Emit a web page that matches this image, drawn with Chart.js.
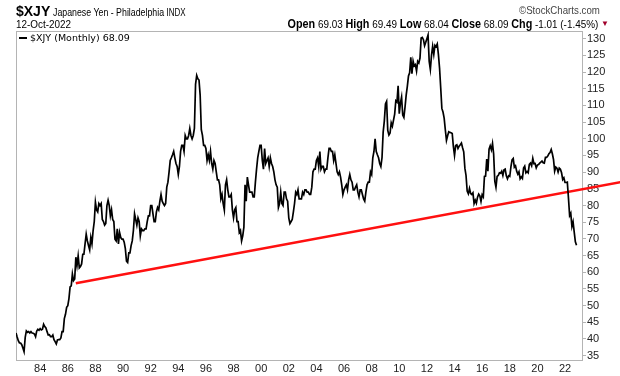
<!DOCTYPE html>
<html><head><meta charset="utf-8">
<script src="https://cdn.jsdelivr.net/npm/chart.js@4.4.0/dist/chart.umd.min.js"></script>
<style>
body{margin:0;background:#fff;width:620px;height:376px;overflow:hidden;font-family:"Liberation Sans",Arial,sans-serif;}
#wrap{position:relative;width:620px;height:376px;}
canvas{position:absolute;left:0;top:0;}
.t{position:absolute;white-space:nowrap;color:#000;line-height:1;}
</style></head><body>
<div id="wrap">
<canvas id="c" width="620" height="376"></canvas>
<div class="t" style="left:16px;top:3px;"><b style="font-size:14px">$XJY</b><span style="display:inline-block;transform:scaleX(0.8);transform-origin:left;font-size:11px;margin-left:3px">Japanese Yen - Philadelphia <span style="font-size:10px">INDX</span></span></div>
<div class="t" style="right:20px;top:5px;font-size:11px;color:#444;display:inline-block;transform:scaleX(0.88);transform-origin:right">©StockCharts.com</div>
<div class="t" style="left:16px;top:19px;font-size:11px;display:inline-block;transform:scaleX(0.9);transform-origin:left">12-Oct-2022</div>
<div class="t" style="right:22px;top:18px;font-size:11px;display:inline-block;transform:scaleX(0.9);transform-origin:right"><b style="font-size:12px">Open</b> 69.03 <b style="font-size:12px">High</b> 69.49 <b style="font-size:12px">Low</b> 68.04 <b style="font-size:12px">Close</b> 68.09 <b style="font-size:12px">Chg</b> -1.01 (-1.45%)</div>
<div class="t" style="left:601px;top:20px;font-size:8px;color:#a0002a">▼</div>
<div class="t" style="left:19px;top:33px;font-size:9.5px;font-family:'DejaVu Sans',sans-serif"><span style="display:inline-block;width:8px;height:2px;background:#000;vertical-align:middle;margin-right:3px;position:relative;top:-1px"></span>$XJY (Monthly) 68.09</div>
</div>
<script>
// Monthly closes of $XJY, starting March 1982, ending October 2022
const startYear = 1982;
const startMonth = 3; // March
const xjyValues = [
// 1982 Mar-Dec
41.8, 40.6, 39.5, 38.8, 38.8, 38.3, 37.3, 36.2, 40.5, 42.4,
// 1983
42.0, 42.2, 41.8, 42.2, 41.8, 41.7, 41.5, 40.7, 42.4, 42.9, 42.6, 43.1,
// 1984
42.7, 42.9, 44.4, 43.7, 43.3, 42.2, 41.2, 41.3, 40.7, 40.7, 41.2, 39.8,
// 1985
39.2, 38.5, 39.7, 39.8, 39.8, 40.3, 42.2, 42.2, 46.1, 47.4, 49.5, 50.0,
// 1986
52.1, 55.6, 55.9, 59.5, 57.5, 58.0, 64.5, 62.0, 64.9, 61.3, 61.7, 62.5,
// 1987
65.4, 65.4, 68.5, 71.4, 69.4, 68.0, 66.7, 70.4, 68.5, 72.5, 75.2, 81.0,
// 1988
78.7, 78.1, 80.6, 80.0, 80.6, 75.8, 75.2, 74.1, 74.6, 80.0, 81.6, 80.0,
// 1989
76.9, 78.7, 75.8, 75.2, 69.9, 69.4, 73.0, 68.5, 71.9, 70.4, 69.9, 69.9,
// 1990
69.0, 67.1, 63.3, 62.9, 65.8, 65.8, 68.0, 69.4, 72.5, 77.5, 75.8, 74.1,
// 1991
76.3, 75.2, 70.9, 73.0, 72.5, 72.5, 73.0, 73.0, 75.2, 76.9, 76.9, 80.0,
// 1992
80.0, 77.5, 75.2, 75.2, 78.1, 79.4, 78.7, 81.3, 83.3, 81.3, 80.6, 80.0,
// 1993
80.6, 85.5, 87.0, 90.1, 93.5, 94.3, 95.2, 96.2, 94.3, 92.6, 91.7, 89.3,
// 1994
91.7, 96.2, 98.0, 98.0, 96.2, 101.0, 100.0, 100.0, 101.0, 103.1, 101.0, 100.0,
// 1995
101.0, 103.1, 116.3, 119.0, 118.0, 117.6, 113.1, 102.7, 101.0, 98.0, 98.0, 97.1,
// 1996
93.5, 95.2, 93.5, 96.2, 92.6, 90.9, 93.5, 92.6, 90.1, 87.7, 87.7, 86.2,
// 1997
82.0, 83.3, 80.6, 78.7, 86.2, 87.7, 84.7, 82.6, 82.6, 83.3, 78.7, 76.3,
// 1998
78.7, 79.4, 75.2, 75.2, 71.9, 72.5, 69.4, 70.9, 73.5, 86.2, 81.3, 88.5,
// 1999
86.2, 84.0, 84.0, 84.0, 82.6, 82.6, 87.0, 90.9, 94.3, 96.2, 98.0, 98.0,
// 2000
93.5, 90.9, 97.1, 92.6, 93.5, 94.3, 91.7, 94.3, 92.6, 91.7, 90.1, 87.7,
// 2001
86.2, 85.5, 79.4, 80.6, 84.0, 80.6, 80.0, 84.0, 84.0, 82.0, 81.3, 76.3,
// 2002
74.6, 75.2, 75.8, 78.1, 80.6, 84.0, 83.3, 84.7, 82.0, 82.0, 82.0, 84.0,
// 2003
83.3, 84.7, 84.7, 84.0, 84.0, 83.3, 83.3, 85.5, 90.1, 90.9, 90.9, 93.5,
// 2004
94.3, 91.7, 96.2, 90.9, 91.7, 91.7, 90.1, 90.9, 90.9, 94.3, 97.1, 97.1,
// 2005
96.2, 96.2, 93.5, 95.2, 92.6, 90.1, 89.3, 90.1, 88.5, 86.2, 83.3, 84.7,
// 2006
85.5, 86.2, 84.7, 87.7, 89.3, 87.7, 87.0, 84.7, 84.7, 85.5, 86.2, 84.0,
// 2007
82.6, 84.7, 84.7, 83.3, 82.0, 81.3, 84.0, 86.2, 87.0, 87.0, 90.1, 89.3,
// 2008
94.3, 96.2, 100.0, 96.2, 95.2, 94.3, 92.6, 91.7, 94.3, 102.0, 105.3, 110.4,
// 2009
111.2, 102.5, 101.1, 101.7, 104.8, 103.8, 105.6, 107.4, 111.4, 111.0, 115.9, 107.5,
// 2010
110.7, 112.5, 107.1, 106.4, 109.5, 113.1, 115.7, 118.8, 119.8, 124.4, 119.5, 123.3,
// 2011
121.8, 122.2, 120.3, 123.2, 122.7, 124.2, 130.2, 130.4, 129.7, 127.9, 128.9, 130.0,
// 2012
131.1, 123.2, 120.8, 125.0, 127.7, 125.3, 128.0, 127.6, 128.4, 125.3, 121.2, 115.3,
// 2013
109.1, 108.0, 106.2, 102.7, 99.5, 100.9, 102.1, 101.9, 101.8, 101.6, 97.7, 95.0,
// 2014
98.0, 98.2, 97.1, 97.8, 98.2, 98.7, 97.3, 96.1, 91.2, 89.0, 84.3, 83.5,
// 2015
85.1, 83.6, 83.3, 83.8, 80.6, 81.6, 80.7, 82.5, 83.4, 82.9, 81.2, 83.2,
// 2016
82.6, 88.7, 88.8, 93.9, 90.3, 96.9, 97.9, 96.7, 98.6, 95.4, 87.3, 85.5,
// 2017
88.7, 89.0, 89.8, 89.7, 90.3, 89.0, 90.7, 90.9, 88.9, 88.0, 88.9, 88.7,
// 2018
91.6, 93.7, 94.1, 91.5, 91.9, 90.3, 89.4, 90.1, 88.0, 88.6, 88.1, 91.2,
// 2019
91.8, 89.8, 90.2, 89.8, 92.3, 92.7, 91.9, 94.1, 92.5, 92.6, 91.3, 92.1,
// 2020
92.3, 92.7, 93.0, 93.3, 92.8, 92.7, 94.4, 94.4, 94.8, 95.5, 95.9, 96.8,
// 2021
95.5, 93.8, 90.3, 91.5, 91.2, 90.0, 91.2, 90.9, 89.8, 87.8, 88.3, 86.9,
// 2022 Jan-Oct
86.9, 87.0, 82.2, 77.0, 77.7, 73.7, 75.1, 72.0, 69.1, 68.09
];
// Trend line endpoints [year, value]
const trendYears = [1986.58, 2026.0];
const trendValues = [56.7, 87.0];
// Axis ticks
const xTickYears = [1984,1986,1988,1990,1992,1994,1996,1998,2000,2002,2004,2006,2008,2010,2012,2014,2016,2018,2020,2022];
const yTickValues = [35,40,45,50,55,60,65,70,75,80,85,90,95,100,105,110,115,120,125,130];

const priceData = xjyValues.map((v, i) => ({x: startYear + (startMonth + i) / 12, y: v}));
const trendData = trendYears.map((x, i) => ({x: x, y: trendValues[i]}));

const frame = {
  id: 'frame',
  beforeDatasetsDraw(chart) {
    const a = chart.chartArea, ctx = chart.ctx;
    ctx.save();
    ctx.strokeStyle = '#b4b4b4';
    ctx.lineWidth = 1;
    ctx.strokeRect(Math.round(a.left) + 0.5, Math.round(a.top) + 0.5, Math.round(a.right - a.left), Math.round(a.bottom - a.top));
    ctx.restore();
  }
};

new Chart(document.getElementById('c'), {
  type: 'line',
  data: {
    datasets: [
      {data: priceData, borderColor: '#000', borderWidth: 1.7, pointRadius: 0, tension: 0, fill: false},
      {data: trendData, borderColor: '#ff1010', borderWidth: 2.5, pointRadius: 0, tension: 0, fill: false, clip: false}
    ]
  },
  options: {
    responsive: false,
    animation: false,
    events: [],
    layout: {padding: {left: 16, top: 31, right: 0, bottom: 0}},
    plugins: {legend: {display: false}, tooltip: {enabled: false}},
    scales: {
      x: {
        type: 'linear', min: 1982.25, max: 2023.23,
        afterBuildTicks: s => { s.ticks = xTickYears.map(v => ({value: v})); },
        afterFit: s => { s.height = 16; },
        grid: {display: false, drawTicks: false},
        border: {display: false},
        ticks: {
          autoSkip: false, maxRotation: 0, padding: 2,
          color: '#222', font: {family: 'Liberation Sans', size: 11},
          callback: v => String(v % 100).padStart(2, '0')
        }
      },
      y: {
        position: 'right', min: 33.7, max: 132.3,
        afterBuildTicks: s => { s.ticks = yTickValues.map(v => ({value: v})); },
        afterFit: s => { s.width = 38; },
        grid: {drawOnChartArea: false, drawTicks: true, tickLength: 4, color: '#b4b4b4'},
        border: {display: false},
        ticks: {padding: 1, color: '#222', font: {family: 'Liberation Sans', size: 11}}
      }
    }
  },
  plugins: [frame]
});
</script>
</body></html>
